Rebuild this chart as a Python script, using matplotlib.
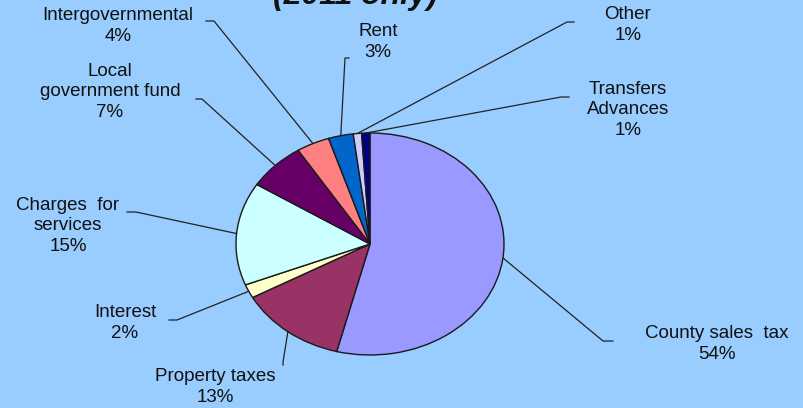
import numpy as np
import matplotlib.pyplot as plt

plt.rcParams['font.family'] = ['Liberation Sans', 'DejaVu Sans']

# revenue sources, 2011
labels = ['County sales  tax', 'Property taxes', 'Interest', 'Charges  for\nservices',
          'Local\ngovernment fund', 'Intergovernmental', 'Rent', 'Other',
          'Transfers\nAdvances']
values = [54, 13, 2, 15, 7, 4, 3, 1, 1]
colors = ['#9999FF', '#993366', '#FFFFCC', '#CCFFFF', '#660066',
          '#FF8080', '#0066CC', '#CCCCFF', '#000080']

# label text centres (px, from top-left) and leader line elbows
text_pos = [(717, 344), (215, 387), (125, 323), (68, 226), (110, 92),
            (118, 26), (378, 42), (628, 25), (628, 110)]
elbows = [[(613, 341), (603, 341)],
          [(283, 365), (283, 362)],
          [(169, 320), (177, 320)],
          [(127, 212), (136, 212)],
          [(196, 99), (202, 99)],
          [(206, 21), (214, 21)],
          [(349, 58), (345, 58)],
          [(574, 22), (567, 22)],
          [(569, 97), (561, 97)]]

W, H = 804, 408
fig = plt.figure(figsize=(W / 100, H / 100), dpi=100)
fig.patch.set_facecolor('#99CCFF')

ov = fig.add_axes([0, 0, 1, 1])
ov.set_xlim(0, W)
ov.set_ylim(H, 0)
ov.axis('off')
ov.patch.set_alpha(0)

cx, cy, rx, ry = 370, 244, 134, 111
ax = fig.add_axes([(cx - rx) / W, (H - cy - ry) / H, 2 * rx / W, 2 * ry / H])
wedges, _ = ax.pie(values, colors=colors, startangle=90, counterclock=False,
                   wedgeprops=dict(edgecolor='#1a1a1a', linewidth=1))
ax.set_xlim(-1, 1)
ax.set_ylim(-1, 1)
ax.set_aspect('auto')
ax.axis('off')

to_ov = ax.transData + ov.transData.inverted()
for w, lab, v, tp, el in zip(wedges, labels, values, text_pos, elbows):
    mid = np.deg2rad((w.theta1 + w.theta2) / 2)
    rim = to_ov.transform((np.cos(mid), np.sin(mid)))
    pts = np.array(el + [tuple(rim)])
    ov.plot(pts[:, 0], pts[:, 1], color='#222222', lw=0.9)
    ov.text(tp[0], tp[1], f'{lab}\n{v}%', ha='center', va='center',
            fontsize=13.5, linespacing=1.3, color='#111111')

ov.text(355, 4, '(2011 only)', ha='center', va='baseline', fontsize=23,
        fontweight='bold', fontstyle='italic', color='#111111')

fig.savefig('out.png', dpi=100, facecolor=fig.get_facecolor())
